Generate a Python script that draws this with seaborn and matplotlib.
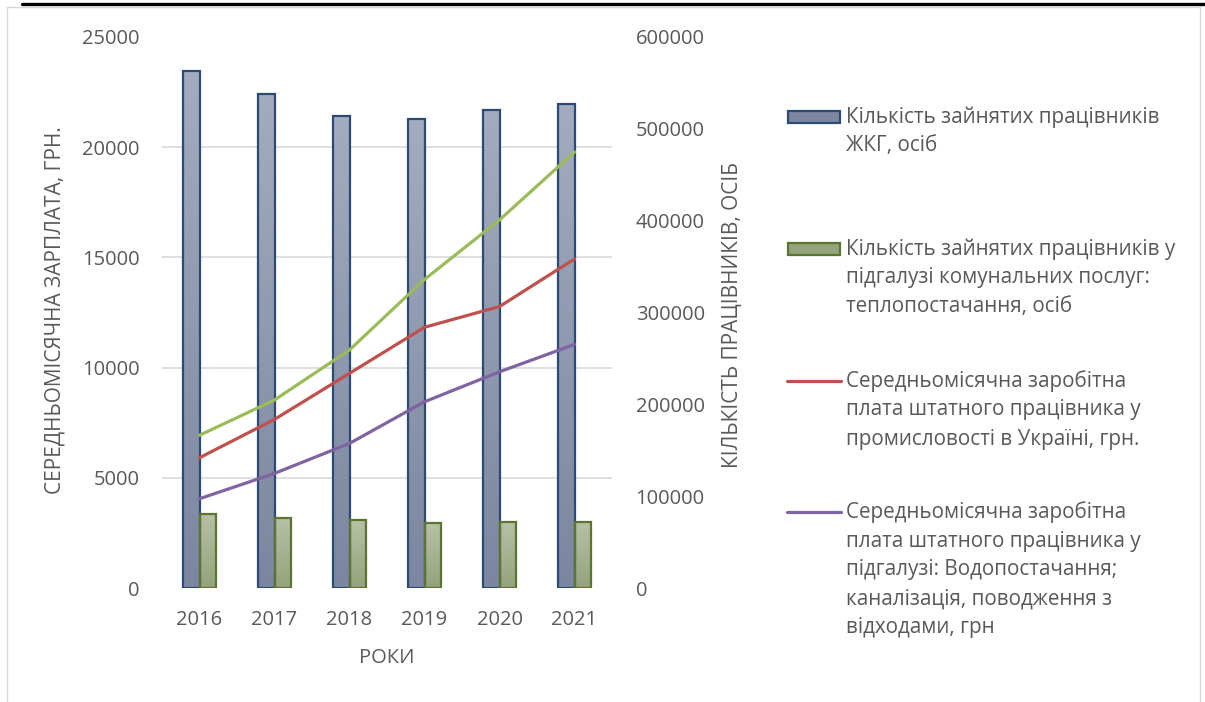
import numpy as np
import pandas as pd
import matplotlib.pyplot as plt
import seaborn as sns
from matplotlib.patches import Rectangle
from matplotlib.lines import Line2D
from matplotlib.colors import LinearSegmentedColormap

# --- дані ---
years = ['2016', '2017', '2018', '2019', '2020', '2021']

# кількість працівників, осіб (права вісь)
workers_zhkg = [563000, 538000, 514000, 511000, 520500, 527000]
workers_heat = [80900, 76600, 74400, 70500, 71500, 71900]

# середньомісячна зарплата, грн (ліва вісь)
salary_industry = [5910, 7650, 9740, 11830, 12770, 14930]
salary_water = [4050, 5200, 6560, 8450, 9810, 11050]
salary_heat = [6930, 8530, 10800, 14000, 16700, 19780]

bar_labels = [
    'Кількість зайнятих працівників\nЖКГ, осіб',
    'Кількість зайнятих працівників у\nпідгалузі комунальних послуг:\nтеплопостачання, осіб',
]
line_labels = [
    'Середньомісячна заробітна\nплата штатного працівника у\nпромисловості в Україні, грн.',
    'Середньомісячна заробітна\nплата штатного працівника у\nпідгалузі: Водопостачання;\nканалізація, поводження з\nвідходами, грн',
    'теплопостачання, грн',  # серія без підпису в легенді
]

bar_colors = [('#a3acbe', '#7b86a0', '#2c4a74'), ('#b7c1a6', '#94a37c', '#5b7530')]
line_colors = ['#c0504d', '#8064a2', '#9bbb59']
text_col = '#595959'

sns.set_style('white')
plt.rcParams['font.family'] = ['Open Sans', 'DejaVu Sans']

df_bars = pd.DataFrame({
    'year': years * 2,
    'value': workers_zhkg + workers_heat,
    'series': [bar_labels[0]] * 6 + [bar_labels[1]] * 6,
})
df_lines = pd.DataFrame({
    'year': years * 3,
    'value': salary_industry + salary_water + salary_heat,
    'series': [line_labels[0]] * 6 + [line_labels[1]] * 6 + [line_labels[2]] * 6,
})

W, H = 1205, 702
fig = plt.figure(figsize=(W / 100, H / 100), dpi=100)
ax = fig.add_axes([162 / W, 1 - 588 / H, 450 / W, 551 / H])
ax2 = ax.twinx()

# стовпці - права вісь
sns.barplot(data=df_bars, x='year', y='value', hue='series', order=years,
            hue_order=bar_labels, width=0.43, saturation=1, ax=ax2, legend=False)
for cont, (c_top, c_bot, c_edge) in zip(ax2.containers, bar_colors):
    cmap = LinearSegmentedColormap.from_list('grad', [c_bot, c_top])
    for bar in cont:
        x0, y0 = bar.get_x(), bar.get_y()
        w, h = bar.get_width(), bar.get_height()
        bar.set_facecolor('none')
        bar.set_edgecolor(c_edge)
        bar.set_linewidth(1.6)
        img = ax2.imshow(np.linspace(0, 1, 64).reshape(-1, 1), extent=(x0, x0 + w, y0, y0 + h),
                         origin='lower', cmap=cmap, aspect='auto', zorder=0.9,
                         interpolation='bilinear')
        img.set_clip_path(bar)

# лінії - ліва вісь
sns.pointplot(data=df_lines, x='year', y='value', hue='series', order=years,
              hue_order=line_labels, palette=line_colors, markers='', linestyles='-',
              errorbar=None, ax=ax, legend=False, linewidth=2.3)
for ln in ax.lines:
    ln.set_solid_capstyle('round')
    ln.set_solid_joinstyle('round')

ax.set_zorder(ax2.get_zorder() + 1)
ax.patch.set_visible(False)

ax.set_xlim(-0.5, 5.5)
ax.set_ylim(0, 25000)
ax2.set_ylim(0, 600000)
ax.set_yticks(range(0, 25001, 5000))
ax2.set_yticks(range(0, 600001, 100000))

# сітка лівої осі, але під стовпцями
ax.grid(False)
ax2.set_yticks(np.arange(0, 600001, 120000), minor=True)
ax2.grid(True, which='minor', axis='y', color='#d9d9d9', lw=1.2)
ax2.grid(False, which='major')
ax2.set_axisbelow(True)
ax2.tick_params(which='minor', length=0)

for a in (ax, ax2):
    for s in a.spines.values():
        s.set_visible(False)
ax.tick_params(axis='both', length=0, labelsize=14.5, labelcolor=text_col)
ax.tick_params(axis='y', pad=16)
ax.tick_params(axis='x', pad=16)
ax2.tick_params(axis='y', length=0, labelsize=14.5, labelcolor=text_col, pad=17)

ax.set_xlabel('РОКИ', fontsize=14.5, color=text_col, va='center')
ax.xaxis.set_label_coords(0.5, -(658 - 588) / 551)
ax.set_ylabel('СЕРЕДНЬОМІСЯЧНА ЗАРПЛАТА, ГРН.', fontsize=15, color=text_col,
              va='center', ha='center')
ax.yaxis.set_label_coords((55 - 162) / 450, (588 - 310) / 551)
ax2.set_ylabel('КІЛЬКІСТЬ ПРАЦІВНИКІВ, ОСІБ', fontsize=15, color=text_col,
               rotation=90, va='center', ha='center')
ax2.yaxis.set_label_coords((733 - 162) / 450, (588 - 315) / 551)

# легенда (маркер навпроти першого рядка підпису)
def fx(x):
    return x / W

def fy(y):
    return 1 - y / H

leg_rows = [117, 249, 381, 512]
for i, row in enumerate(leg_rows):
    if i < 2:
        c_top, c_bot, c_edge = bar_colors[i]
        fig.patches.append(Rectangle((fx(788), fy(row + 6)), fx(52), 12 / H,
                                     transform=fig.transFigure, facecolor=c_bot,
                                     edgecolor=c_edge, lw=1.6))
        label = bar_labels[i]
    else:
        fig.lines.append(Line2D([fx(787), fx(841)], [fy(row), fy(row)],
                                transform=fig.transFigure, color=line_colors[i - 2], lw=2.3))
        label = line_labels[i - 2]
    for j, part in enumerate(label.split('\n')):
        fig.text(fx(846), fy(row + 29 * j), part, fontsize=14.9, color=text_col,
                 va='center', ha='left')

# рамка та чорна смуга зверху
fig.patches.append(Rectangle((fx(7), fy(720)), fx(1193), 713 / H, transform=fig.transFigure,
                             facecolor='none', edgecolor='#d9d9d9', lw=1))
fig.lines.append(Line2D([fx(22), 1], [fy(4), fy(4)], transform=fig.transFigure,
                        color='black', lw=2.4))

fig.savefig('out.png', dpi=100)
